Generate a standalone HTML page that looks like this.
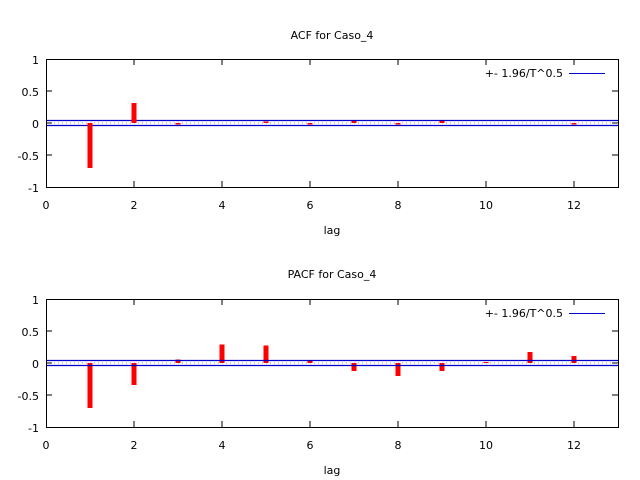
<!DOCTYPE html>
<html><head><meta charset="utf-8"><style>body{margin:0;background:#fff}svg{display:block}text{font-family:"DejaVu Sans","Liberation Sans",sans-serif;font-size:11px;fill:#000}</style></head><body>
<svg width="640" height="480" viewBox="0 0 640 480">
<g id="p1">
<text x="332" y="39" text-anchor="middle">ACF for Caso_4</text>
<line x1="46" y1="123" x2="618" y2="123" stroke="#a0a0a0" stroke-dasharray="1,3"/>
<line x1="46" y1="120.5" x2="618" y2="120.5" stroke="#0000cc" stroke-width="1.2"/>
<line x1="46" y1="125.5" x2="618" y2="125.5" stroke="#0000cc" stroke-width="1.2"/>
<g fill="#f00">
<rect x="87.5" y="123" width="5" height="45"/>
<rect x="131.5" y="103" width="5" height="20"/>
<rect x="175.5" y="123" width="5" height="1.5"/>
<rect x="263.5" y="121.5" width="5" height="1.5"/>
<rect x="307.5" y="123" width="5" height="1.5"/>
<rect x="351.5" y="121" width="5" height="2"/>
<rect x="395.5" y="123" width="5" height="1.5"/>
<rect x="439.5" y="121" width="5" height="2"/>
<rect x="571.5" y="123" width="5" height="1.5"/>
</g>
<text x="563" y="77" text-anchor="end">+- 1.96/T^0.5</text>
<line x1="569" y1="73.5" x2="605" y2="73.5" stroke="#0000cc"/>
<rect x="46.5" y="59.5" width="572" height="128" fill="none" stroke="#000"/>
<g stroke="#000">
<path d="M46 91h6M46 123h6M46 155h6M618 91h-6M618 123h-6M618 155h-6"/>
<path d="M134 187v-6M222 187v-6M310 187v-6M398 187v-6M486 187v-6M574 187v-6M134 59v6M222 59v6M310 59v6M398 59v6M486 59v6M574 59v6"/>
</g>
<g text-anchor="end"><text x="39" y="64">1</text><text x="39" y="96">0.5</text><text x="39" y="128">0</text><text x="39" y="160">-0.5</text><text x="39" y="192">-1</text></g>
<g text-anchor="middle"><text x="46" y="209">0</text><text x="134" y="209">2</text><text x="222" y="209">4</text><text x="310" y="209">6</text><text x="398" y="209">8</text><text x="486" y="209">10</text><text x="574" y="209">12</text><text x="332" y="234">lag</text></g>
</g>
<g>
<text x="332" y="278" text-anchor="middle">PACF for Caso_4</text>
<line x1="46" y1="363" x2="618" y2="363" stroke="#a0a0a0" stroke-dasharray="1,3"/>
<g fill="#f00">
<rect x="87.5" y="363" width="5" height="45"/>
<rect x="131.5" y="363" width="5" height="22"/>
<rect x="175.5" y="359.5" width="5" height="3.5"/>
<rect x="219.5" y="344.5" width="5" height="18.5"/>
<rect x="263.5" y="345.5" width="5" height="17.5"/>
<rect x="307.5" y="361" width="5" height="2"/>
<rect x="351.5" y="363" width="5" height="8"/>
<rect x="395.5" y="363" width="5" height="13"/>
<rect x="439.5" y="363" width="5" height="8"/>
<rect x="483.5" y="362" width="5" height="1"/>
<rect x="527.5" y="352" width="5" height="11"/>
<rect x="571.5" y="356" width="5" height="7"/>
</g>
<line x1="46" y1="360.5" x2="618" y2="360.5" stroke="#0000cc" stroke-width="1.2"/>
<line x1="46" y1="365.5" x2="618" y2="365.5" stroke="#0000cc" stroke-width="1.2"/>
<text x="563" y="317" text-anchor="end">+- 1.96/T^0.5</text>
<line x1="569" y1="313.5" x2="605" y2="313.5" stroke="#0000cc"/>
<rect x="46.5" y="299.5" width="572" height="128" fill="none" stroke="#000"/>
<g stroke="#000">
<path d="M46 331h6M46 363h6M46 395h6M618 331h-6M618 363h-6M618 395h-6"/>
<path d="M134 427v-6M222 427v-6M310 427v-6M398 427v-6M486 427v-6M574 427v-6M134 299v6M222 299v6M310 299v6M398 299v6M486 299v6M574 299v6"/>
</g>
<g text-anchor="end"><text x="39" y="304">1</text><text x="39" y="336">0.5</text><text x="39" y="368">0</text><text x="39" y="400">-0.5</text><text x="39" y="432">-1</text></g>
<g text-anchor="middle"><text x="46" y="449">0</text><text x="134" y="449">2</text><text x="222" y="449">4</text><text x="310" y="449">6</text><text x="398" y="449">8</text><text x="486" y="449">10</text><text x="574" y="449">12</text><text x="332" y="474">lag</text></g>
</g>
</svg>
</body></html>
